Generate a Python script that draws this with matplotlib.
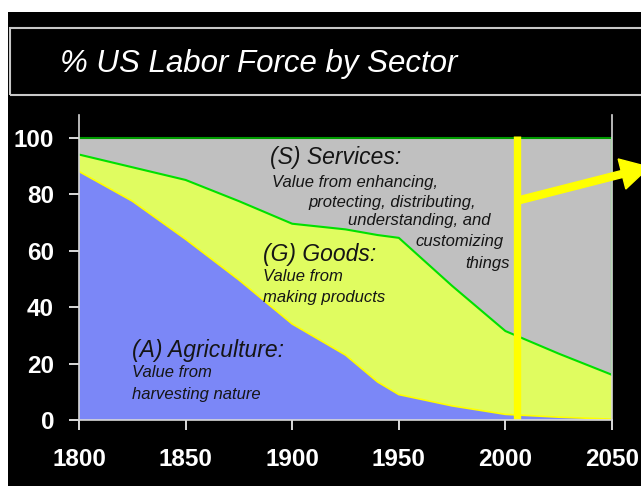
import matplotlib
matplotlib.use("Agg")
import matplotlib.pyplot as plt
import matplotlib.patches as patches
import numpy as np

# share of US labor force (%)
years = [1800, 1825, 1850, 1875, 1900, 1925, 1940, 1950, 1975, 2000, 2025, 2050]
agriculture = [88, 77.5, 64, 49.6, 34, 23, 13.5, 9, 5, 2, 1, 0.3]
goods = [6, 12, 21, 27.9, 35.5, 44.5, 52, 55.5, 42.5, 29.5, 22.5, 15.7]
services = [100 - a - g for a, g in zip(agriculture, goods)]

today_year = 2005.5
xticks = [1800, 1850, 1900, 1950, 2000, 2050]
yticks = [0, 20, 40, 60, 80, 100]

W, H = 641, 486
fig = plt.figure(figsize=(W / 100, H / 100), dpi=100)
fig.patch.set_facecolor("white")

# black slide background
fig.patches.append(patches.Rectangle((8 / W, 0), 1, (H - 12) / H, transform=fig.transFigure,
                                     facecolor="black", edgecolor="none", zorder=-2))
# title box
fig.patches.append(patches.Rectangle((10 / W, (H - 95) / H), 640 / W, 67 / H, transform=fig.transFigure,
                                     facecolor="none", edgecolor="#c8c8c8", lw=1.5, zorder=-1))
fig.text(60 / W, (H - 64) / H, "% US Labor Force by Sector", color="white", fontsize=22.5,
         style="italic", family="Liberation Sans", va="center", ha="left")

ax = fig.add_axes([79 / W, (H - 420) / H, 533 / W, 305 / H])
ax.set_facecolor("black")

ax.stackplot(years, agriculture, goods, services,
             colors=["#7b87f7", "#e0fc60", "#c0c0c0"], lw=0)
ax.plot(years, agriculture, color="#ffff00", lw=1.2)
top = np.array(agriculture) + np.array(goods)
ax.plot(years, top, color="#00e000", lw=1.5)
ax.plot([years[0], years[-1]], [100, 100], color="#009a00", lw=1.5)
ax.plot([years[-1], years[-1]], [top[-1], 100], color="#00d000", lw=1.5)

# "today" marker
ax.plot([today_year, today_year], [0, 100.7], color="#ffff00", lw=5.3, solid_capstyle="butt")

ax.set_xlim(1800, 2050)
ax.set_ylim(0, 108)
ax.set_xticks(xticks)
ax.set_yticks(yticks)
ax.tick_params(colors="white", length=7, width=1.2, labelsize=17.5)
ax.tick_params(axis="y", pad=11)
ax.tick_params(axis="x", pad=13)
for lab in ax.get_xticklabels() + ax.get_yticklabels():
    lab.set_fontweight("bold")
    lab.set_family("Liberation Sans")
for s in ["left", "bottom", "right"]:
    ax.spines[s].set_color("#d8d8d8")
    ax.spines[s].set_linewidth(1.2)
ax.spines["top"].set_visible(False)

# arrow pointing to the future
fig.patches.append(patches.FancyArrow(5.20, 2.86, 1.02, 0.26, width=0.07, head_width=0.31,
                                      head_length=0.28, length_includes_head=False,
                                      color="#ffff00", transform=fig.dpi_scale_trans, zorder=5))

tc = "#151515"
tf = "Liberation Sans"
big = 16.5
small = 12
ax.text(1889.6, 92.9, "(S) Services:", fontsize=big, style="italic", color=tc, family=tf, va="center")
ax.text(1890.5, 84, "Value from enhancing,", fontsize=small, style="italic", color=tc, family=tf, va="center")
ax.text(1907.4, 77, "protecting, distributing,", fontsize=small, style="italic", color=tc, family=tf, va="center")
ax.text(1926, 70.6, "understanding, and", fontsize=small, style="italic", color=tc, family=tf, va="center")
ax.text(1957.6, 63.1, "customizing", fontsize=small, style="italic", color=tc, family=tf, va="center")
ax.text(1981, 55.3, "things", fontsize=small, style="italic", color=tc, family=tf, va="center")

ax.text(1886.3, 58.5, "(G) Goods:", fontsize=big, style="italic", color=tc, family=tf, va="center")
ax.text(1886.3, 50.7, "Value from", fontsize=small, style="italic", color=tc, family=tf, va="center")
ax.text(1886.3, 43.3, "making products", fontsize=small, style="italic", color=tc, family=tf, va="center")

ax.text(1824.9, 24.5, "(A) Agriculture:", fontsize=big, style="italic", color=tc, family=tf, va="center")
ax.text(1824.9, 16.7, "Value from", fontsize=small, style="italic", color=tc, family=tf, va="center")
ax.text(1824.9, 9.2, "harvesting nature", fontsize=small, style="italic", color=tc, family=tf, va="center")

fig.savefig("out.png", dpi=100, facecolor=fig.get_facecolor())
